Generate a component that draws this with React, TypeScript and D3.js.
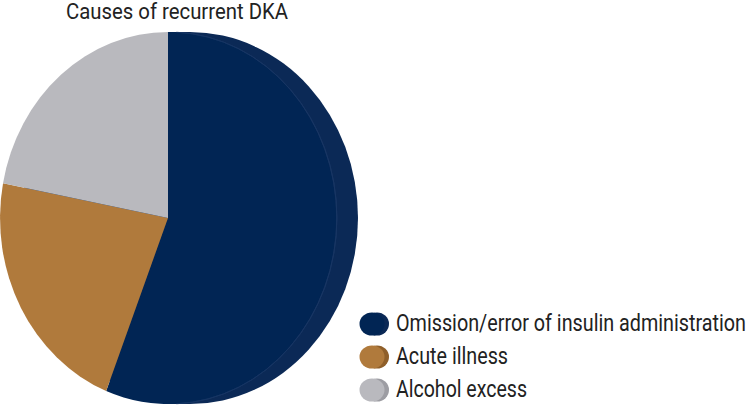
import * as d3 from "d3";

const categories = ["Omission/error of insulin administration", "Acute illness", "Alcohol excess"];
const shares = [56, 22, 22];
const faceColors = ["#012554", "#b07a3c", "#b9b9be"];
const rimColors = ["#0b2956", "#8f5f2a", "#9d9da3"];
const title = "Causes of recurrent DKA";
// rendered widths of the condensed labels in the reference
const labelWidths = [350, 112, 131];

const W = 750;
const H = 405;
const font = "Roboto, 'Liberation Sans', sans-serif";

export default function App() {
  const cx = 168;
  const cy = 218;
  const rx = 168;
  const ry = 186;
  const depth = 22;

  const pie = d3.pie<number>().sort(null).startAngle(0).endAngle(2 * Math.PI);
  const arcs = pie(shares);
  const arc = d3.arc<d3.PieArcDatum<number>>().innerRadius(0).outerRadius(1);

  // right-half edge of the front face, to show the thin rim line
  const edge = d3.arc()({ innerRadius: 1, outerRadius: 1, startAngle: 0.05, endAngle: Math.PI - 0.05 } as any);

  const legendY = d3.scaleBand<string>().domain(categories).range([307.5, 406.5]).paddingInner(0);

  return (
    <div style={{ position: "fixed", left: 0, top: 0 }}>
      <svg width={W} height={H} style={{ display: "block", background: "#fff" }}>
        <text x={66} y={19} fontFamily={font} fontSize={22.5} fill="#222" textLength={222} lengthAdjust="spacingAndGlyphs">
          {title}
        </text>

        {/* rim of the disk */}
        <ellipse cx={cx + depth} cy={cy} rx={rx} ry={ry} fill={rimColors[0]} />
        <rect x={cx} y={cy - ry} width={depth} height={ry * 2} fill={rimColors[0]} />

        <g transform={`translate(${cx},${cy}) scale(${rx},${ry})`}>
          {arcs.map((a, i) => (
            <path key={i} d={arc(a) ?? ""} fill={faceColors[i]} />
          ))}
          <path d={edge ?? ""} fill="none" stroke="#2a4878" strokeWidth={1} vectorEffect="non-scaling-stroke" opacity={0.4} />
        </g>

        {categories.map((c, i) => {
          const y = (legendY(c) ?? 0) + legendY.bandwidth() / 2;
          return (
            <g key={c}>
              <ellipse cx={377} cy={y} rx={12} ry={11.5} fill={rimColors[i]} />
              <ellipse cx={372} cy={y} rx={12.5} ry={11.5} fill={faceColors[i]} />
              <text x={396} y={y + 7} fontFamily={font} fontSize={24} fill="#222" textLength={labelWidths[i]} lengthAdjust="spacingAndGlyphs">
                {c}
              </text>
            </g>
          );
        })}
      </svg>
    </div>
  );
}
